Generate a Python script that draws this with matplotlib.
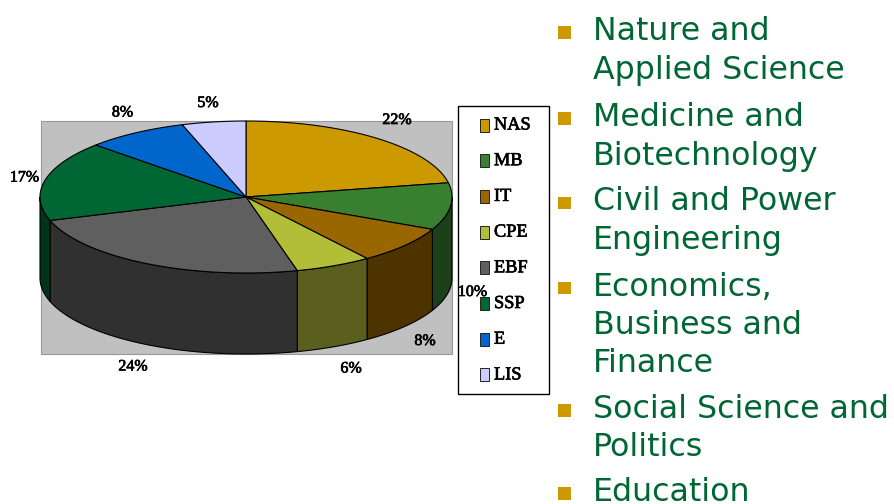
import numpy as np
import matplotlib
matplotlib.use('Agg')
import matplotlib.pyplot as plt
import matplotlib.patheffects as pe
from matplotlib.patches import Polygon, Rectangle

cats = ['NAS', 'MB', 'IT', 'CPE', 'EBF', 'SSP', 'E', 'LIS']
vals = [22, 10, 8, 6, 24, 17, 8, 5]
top_cols = ['#CC9900', '#388030', '#996600', '#B2BE37', '#5F5F5F', '#006633', '#0066CC', '#CCCCFF']
side_cols = ['#664D00', '#1C4018', '#4D3300', '#5A5F1E', '#303030', '#003319', '#003366', '#666680']
label_xy = [(397, 120), (472.5, 292), (425, 341), (351, 368.5), (133, 366.5), (24.5, 177.5), (122.5, 112.5), (208, 103)]

bullets = [
    ['Nature and', 'Applied Science'],
    ['Medicine and', 'Biotechnology'],
    ['Civil and Power', 'Engineering'],
    ['Economics,', 'Business and', 'Finance'],
    ['Social Science and', 'Politics'],
    ['Education'],
]
baselines = [[40, 79], [126, 164.5], [210.5, 249], [295.5, 334, 372], [418, 456], [501]]

cx, cy, rx, ry, depth = 246, 197, 206, 76, 81
serif = 'Liberation Serif'
green = '#006633'
gold = '#CC9900'
thick = [pe.withStroke(linewidth=0.5, foreground='black')]


def arc(t1, t2, dy=0):
    t = np.radians(np.linspace(t1, t2, 80))
    return np.column_stack([cx + rx * np.sin(t), cy - ry * np.cos(t) + dy])


fig = plt.figure(figsize=(8.94, 5.04), dpi=100)
ax = fig.add_axes([0, 0, 1, 1])
ax.set_xlim(0, 894)
ax.set_ylim(504, 0)
ax.axis('off')

# grey plot area behind the pie
ax.add_patch(Rectangle((41, 121), 411, 233, fc='#C0C0C0', ec='#999999', lw=0.8, zorder=1))

edges = np.cumsum([0] + vals) / sum(vals) * 360

# side walls, only the front half shows
for i in range(len(vals)):
    a = max(edges[i], 90)
    b = min(edges[i + 1], 270)
    if a < b:
        pts = np.vstack([arc(a, b), arc(b, a, depth)])
        ax.add_patch(Polygon(pts, fc=side_cols[i], ec='black', lw=0.8, zorder=2))

# top of the pie
for i in range(len(vals)):
    pts = np.vstack([[cx, cy], arc(edges[i], edges[i + 1])])
    ax.add_patch(Polygon(pts, fc=top_cols[i], ec='black', lw=0.8, zorder=3))

# legend box
ax.add_patch(Rectangle((458, 106), 91, 288, fc='white', ec='black', lw=1, zorder=4))
for i, c in enumerate(cats):
    y = 125 + i * 35.7
    ax.add_patch(Rectangle((479.5, y - 6.5), 9, 13, fc=top_cols[i], ec='#222222', lw=0.7, zorder=5))
    ax.text(494, y, c, family=serif, fontsize=13.2, va='center', zorder=5, path_effects=thick)

# percent labels
for v, (x, y) in zip(vals, label_xy):
    ax.text(x, y, f'{v}%', family=serif, fontsize=11.5, ha='center', va='center', zorder=6, path_effects=thick)

# bullet list on the right
for lines, ys in zip(bullets, baselines):
    ax.add_patch(Rectangle((558, ys[0] - 14), 12.5, 12.5, fc=gold, ec='none'))
    for s, y in zip(lines, ys):
        ax.text(593, y, s, color=green, family='DejaVu Sans', fontsize=22.8, va='baseline')

fig.savefig('out.png', dpi=100)
